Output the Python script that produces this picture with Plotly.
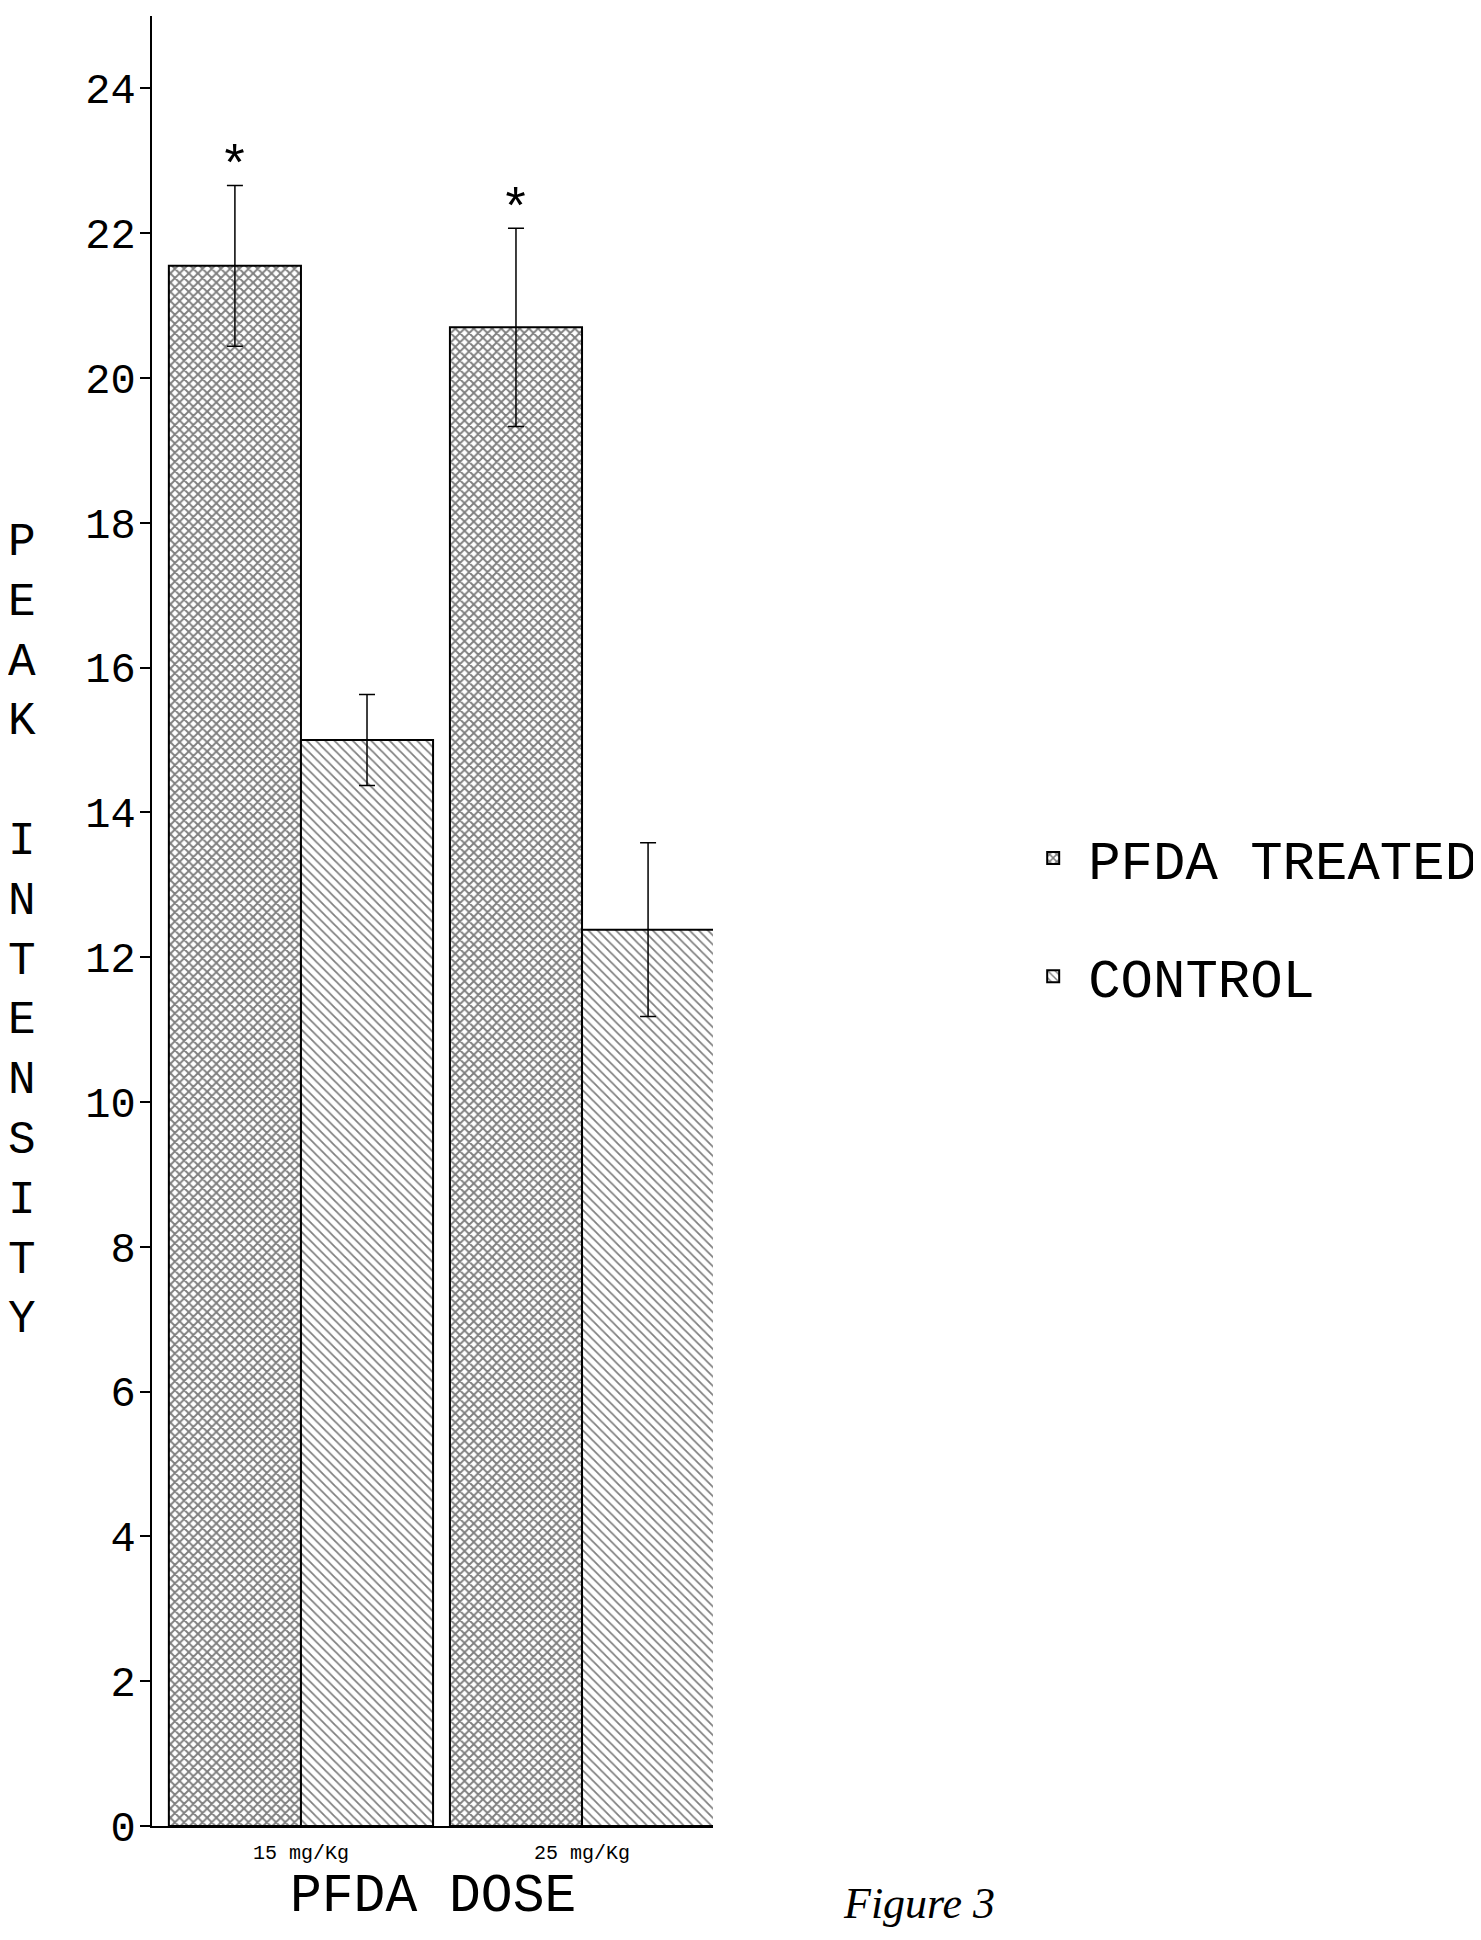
import plotly.graph_objects as go

# ---- data ----
categories = ["15 mg/Kg", "25 mg/Kg"]
treated = [21.55, 20.70]
treated_err = [1.11, 1.37]
control = [15.00, 12.38]
control_err = [0.63, 1.20]
significant = [True, True]
series_names = ["PFDA TREATED", "CONTROL"]
y_ticks = list(range(0, 25, 2))
y_title_letters = list("PEAK") + [" "] + list("INTENSITY")
x_title = "PFDA DOSE"

FONT = "Liberation Mono, Courier New, monospace"
BARGAP = 0.06

fig = go.Figure()
fig.add_trace(go.Bar(
    name=series_names[0], x=categories, y=treated, legendgroup="a",
    marker=dict(color="white", line=dict(color="black", width=2),
                pattern=dict(shape="x", fgcolor="black", bgcolor="white",
                             size=6.5, solidity=0.5)),
    error_y=dict(type="data", array=treated_err, visible=True,
                 color="black", thickness=1.5, width=8),
))
fig.add_trace(go.Bar(
    name=series_names[1], x=categories, y=control, legendgroup="b",
    marker=dict(color="white", line=dict(color="black", width=2),
                pattern=dict(shape="\\", fgcolor="black", bgcolor="white",
                             size=6.5, solidity=0.27)),
    error_y=dict(type="data", array=control_err, visible=True,
                 color="black", thickness=1.5, width=8),
))

# significance asterisks above the treated bars
group_w = 1 - BARGAP
for i, (v, e, s) in enumerate(zip(treated, treated_err, significant)):
    if s:
        fig.add_annotation(x=i - group_w / 4, y=v + e, xref="x", yref="y",
                           text="*", showarrow=False, yanchor="middle",
                           yshift=17, font=dict(family=FONT, size=52, color="black"))

# vertical stacked y-axis title
fig.add_annotation(x=0, xref="paper", y=0.494, yref="paper", xshift=-130,
                   text="<br>".join(y_title_letters), showarrow=False,
                   xanchor="center", yanchor="middle", align="center",
                   font=dict(family=FONT, size=46, color="black"))

# x-axis title
fig.add_annotation(x=0.5, xref="paper", y=0, yref="paper", yshift=-71,
                   text=x_title, showarrow=False, xanchor="center", yanchor="middle",
                   font=dict(family=FONT, size=53, color="black"))

# handwritten figure label at the bottom of the page
fig.add_annotation(x=0, y=0, xref="paper", yref="paper",
                   text="<i>Figure 3</i>", showarrow=False,
                   xanchor="left", yanchor="bottom", xshift=689, yshift=-104,
                   font=dict(family="Liberation Serif, serif", size=44, color="black"))

fig.update_layout(
    width=1473, height=1924,
    margin=dict(l=144, r=768, t=8, b=106, pad=0, autoexpand=False),
    paper_bgcolor="white", plot_bgcolor="white",
    barmode="group", bargap=BARGAP, bargroupgap=0,
    showlegend=True,
    legend=dict(x=1.544, xanchor="left", y=0.502, yanchor="middle",
                font=dict(family=FONT, size=54, color="black"),
                traceorder="grouped", tracegroupgap=45,
                bgcolor="rgba(0,0,0,0)", itemwidth=60),
    font=dict(family=FONT, color="black"),
)
fig.update_xaxes(range=[-0.53, 1.466], showline=True, linecolor="black",
                 linewidth=2, ticks="", showgrid=False, zeroline=False,
                 ticklabelstandoff=7,
                 tickfont=dict(family=FONT, size=20, color="black"))
fig.update_yaxes(range=[0, 25], tickvals=y_ticks, showline=True, linecolor="black",
                 linewidth=2, ticks="outside", ticklen=10, tickwidth=1.5,
                 tickcolor="black", showgrid=False, zeroline=False,
                 ticklabelstandoff=-4,
                 tickfont=dict(family=FONT, size=42, color="black"))

fig.write_html("out.html")
